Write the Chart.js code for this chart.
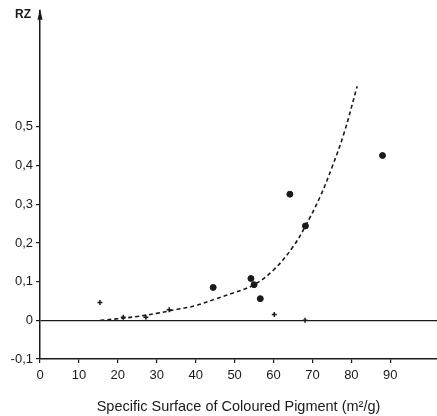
<!DOCTYPE html>
<html>
<head>
<meta charset="utf-8">
<script src="https://cdn.jsdelivr.net/npm/chart.js@4/dist/chart.umd.min.js"></script>
<style>
  html, body { margin:0; padding:0; background:#fff; }
  #wrap { width:437px; height:416px; }
</style>
</head>
<body>
<div id="wrap"><canvas id="c" width="437" height="416"></canvas></div>
<script>
// filled dots (measured values)
const dotX = [44.5, 54.2, 55.0, 56.6, 64.2, 68.2, 88.0];
const dotY = [0.085, 0.108, 0.092, 0.056, 0.326, 0.244, 0.426];

// small crosses
const crossX = [15.4, 21.4, 27.2, 33.2, 60.2, 68.1];
const crossY = [0.046, 0.008, 0.008, 0.027, 0.015, 0.0];

// dashed trend curve
const curveX = [15.5, 20, 25, 30, 35, 40, 45, 50, 55, 60, 65, 68, 72, 75, 78, 81.5];
const curveY = [0.0, 0.004, 0.01, 0.018, 0.028, 0.038, 0.055, 0.072, 0.092, 0.13, 0.19, 0.24, 0.32, 0.395, 0.48, 0.605];

const xTicks = [0, 10, 20, 30, 40, 50, 60, 70, 80, 90];
const yTicks = [-0.1, 0, 0.1, 0.2, 0.3, 0.4, 0.5];

const INK = '#1a1a1a';
const FONT = "'Liberation Sans', Arial, sans-serif";

const zip = (xs, ys) => xs.map((x, i) => ({ x, y: ys[i] }));

// RZ label + arrow head on top of the y axis
const axisDeco = {
  id: 'axisDeco',
  afterDraw(chart) {
    const { ctx, chartArea } = chart;
    const x = chart.scales.x.getPixelForValue(0);
    const top = chartArea.top;
    ctx.save();
    ctx.fillStyle = INK;
    ctx.beginPath();
    ctx.moveTo(x, top - 2);
    ctx.lineTo(x - 2.5, top + 9);
    ctx.lineTo(x + 2.5, top + 9);
    ctx.closePath();
    ctx.fill();
    ctx.font = 'bold 12px ' + FONT;
    ctx.textAlign = 'right';
    ctx.textBaseline = 'middle';
    ctx.fillText('RZ', x - 9, top + 4);
    ctx.restore();
  }
};

new Chart(document.getElementById('c'), {
  type: 'scatter',
  data: {
    datasets: [
      {
        type: 'line',
        data: zip(curveX, curveY),
        borderColor: INK,
        borderWidth: 1.6,
        borderDash: [4, 3],
        pointRadius: 0,
        tension: 0.4,
        fill: false,
      },
      {
        data: zip(dotX, dotY),
        backgroundColor: INK,
        borderColor: INK,
        pointRadius: 3,
        pointStyle: 'circle',
      },
      {
        data: zip(crossX, crossY),
        borderColor: INK,
        backgroundColor: INK,
        pointStyle: 'cross',
        pointRadius: 2.5,
        borderWidth: 1.5,
      },
    ],
  },
  options: {
    responsive: false,
    animation: false,
    layout: { autoPadding: false, padding: { top: 9, right: 0, left: 0, bottom: 0 } },
    plugins: { legend: { display: false }, tooltip: { enabled: false } },
    scales: {
      x: {
        type: 'linear',
        min: 0,
        max: 102,
        afterBuildTicks: s => { s.ticks = xTicks.map(v => ({ value: v })); },
        afterFit: s => { s.height = 57; },
        border: { color: INK, width: 1.5 },
        grid: { display: true, drawOnChartArea: false, color: INK, tickColor: INK, tickLength: 4, lineWidth: 1.2 },
        ticks: { color: INK, font: { family: FONT, size: 13 }, padding: 5, maxRotation: 0 },
        title: {
          display: true,
          text: 'Specific Surface of Coloured Pigment (m²/g)',
          color: INK,
          font: { family: FONT, size: 14.5 },
          padding: { top: 9, bottom: 0 },
        },
      },
      y: {
        type: 'linear',
        min: -0.1,
        max: 0.8,
        afterBuildTicks: s => { s.ticks = yTicks.map(v => ({ value: v })); },
        afterFit: s => { s.width = 40; },
        border: { color: INK, width: 1.5 },
        grid: {
          color: c => (c.tick && Math.abs(c.tick.value) < 1e-9 ? INK : 'transparent'),
          tickColor: INK,
          tickLength: 4,
          lineWidth: 1.2,
        },
        ticks: {
          color: INK,
          font: { family: FONT, size: 13 },
          padding: 3,
          callback: v => (Math.abs(v) < 1e-9 ? '0' : String(Math.round(v * 10) / 10).replace('.', ',')),
        },
      },
    },
  },
  plugins: [axisDeco],
});
</script>
</body>
</html>
